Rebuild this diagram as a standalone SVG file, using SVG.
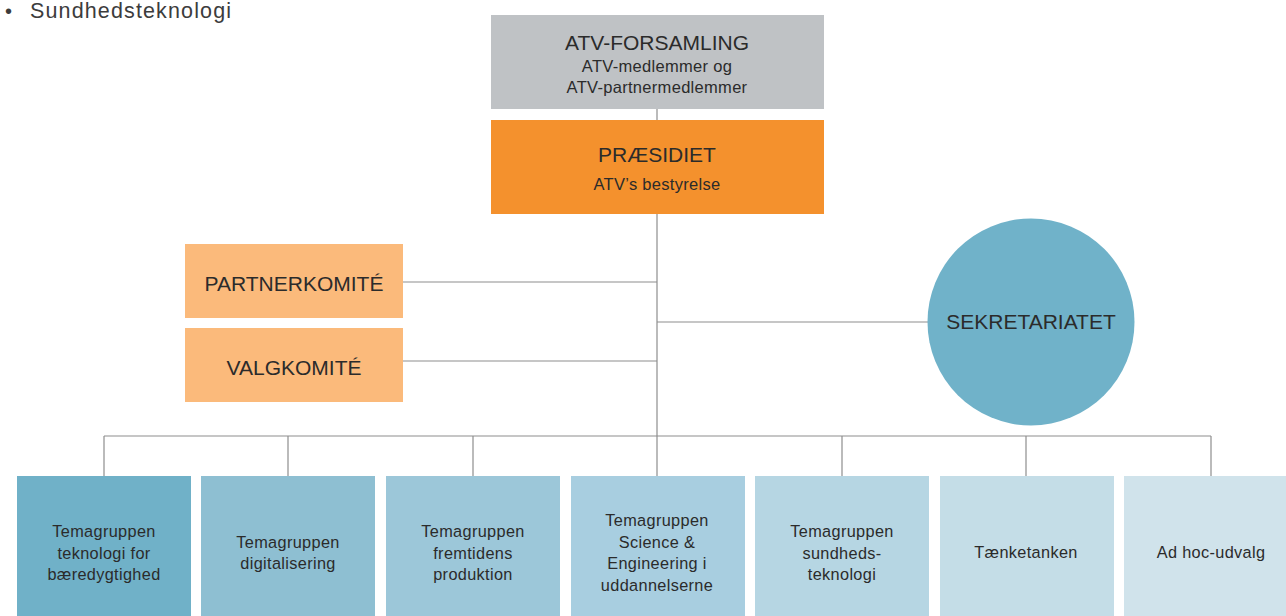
<svg xmlns="http://www.w3.org/2000/svg" width="1286" height="616" viewBox="0 0 1286 616">
<style>
text{font-family:"Liberation Sans",Arial,Helvetica,sans-serif;fill:#2b2b2b;text-anchor:middle}
.t20{font-size:21px}
.t16{font-size:16.5px;letter-spacing:0.3px}
.t15{font-size:16.3px;letter-spacing:0.35px}
.con line{stroke:#8e8e8e;stroke-width:1.2;fill:none}
</style>
<rect width="1286" height="616" fill="#ffffff"/>
<text x="5" y="18" style="font-size:20px;text-anchor:start;fill:#3c3c3c">•</text>
<text x="30" y="18" textLength="201" style="font-size:21.5px;text-anchor:start;fill:#3c3c3c">Sundhedsteknologi</text>
<g class="con" id="connectors">
<line x1="657" y1="108" x2="657" y2="120"/>
<line x1="657" y1="213" x2="657" y2="436"/>
<line x1="403" y1="282" x2="657" y2="282"/>
<line x1="403" y1="361" x2="657" y2="361"/>
<line x1="657" y1="322" x2="928" y2="322"/>
<line x1="104" y1="436" x2="1211" y2="436"/>
<line x1="104" y1="436" x2="104" y2="476"/>
<line x1="288" y1="436" x2="288" y2="476"/>
<line x1="473" y1="436" x2="473" y2="476"/>
<line x1="657" y1="436" x2="657" y2="476"/>
<line x1="842" y1="436" x2="842" y2="476"/>
<line x1="1026" y1="436" x2="1026" y2="476"/>
<line x1="1211" y1="436" x2="1211" y2="476"/>
</g>
<g id="forsamling">
<rect x="491" y="15" width="333" height="94" fill="#bfc2c5"/>
<text x="657" y="50" class="t20">ATV-FORSAMLING</text>
<text x="657" y="72" class="t16">ATV-medlemmer og</text>
<text x="657" y="93" class="t16">ATV-partnermedlemmer</text>
</g>
<g id="praesidiet">
<rect x="491" y="120" width="333" height="94" fill="#f4912d"/>
<text x="657" y="162" class="t20">PRÆSIDIET</text>
<text x="657" y="190" class="t16">ATV’s bestyrelse</text>
</g>
<g id="partnerkomite">
<rect x="185" y="244" width="218" height="74" fill="#fbba7b"/>
<text x="294" y="291" class="t20">PARTNERKOMITÉ</text>
</g>
<g id="valgkomite">
<rect x="185" y="328" width="218" height="74" fill="#fbba7b"/>
<text x="294" y="375" class="t20">VALGKOMITÉ</text>
</g>
<g id="sekretariatet">
<circle cx="1031" cy="322" r="103.5" fill="#70b2c9"/>
<text x="1031" y="329" class="t20">SEKRETARIATET</text>
</g>
<g id="tema1">
<rect x="17" y="476" width="174" height="145" fill="#70b1c8"/>
<text x="104" y="537" class="t15">Temagruppen</text>
<text x="104" y="558.5" class="t15">teknologi for</text>
<text x="104" y="580" class="t15">bæredygtighed</text>
</g>
<g id="tema2">
<rect x="201" y="476" width="174" height="145" fill="#8ebfd2"/>
<text x="288" y="547.5" class="t15">Temagruppen</text>
<text x="288" y="569" class="t15">digitalisering</text>
</g>
<g id="tema3">
<rect x="386" y="476" width="174" height="145" fill="#9cc7d9"/>
<text x="473" y="537" class="t15">Temagruppen</text>
<text x="473" y="558.5" class="t15">fremtidens</text>
<text x="473" y="580" class="t15">produktion</text>
</g>
<g id="tema4">
<rect x="571" y="476" width="174" height="145" fill="#a8cee0"/>
<text x="657" y="526" class="t15">Temagruppen</text>
<text x="657" y="547.5" class="t15">Science &amp;</text>
<text x="657" y="569" class="t15">Engineering i</text>
<text x="657" y="590.5" class="t15">uddannelserne</text>
</g>
<g id="tema5">
<rect x="755" y="476" width="174" height="145" fill="#b6d6e3"/>
<text x="842" y="537" class="t15">Temagruppen</text>
<text x="842" y="558.5" class="t15">sundheds-</text>
<text x="842" y="580" class="t15">teknologi</text>
</g>
<g id="taenketanken">
<rect x="940" y="476" width="174" height="145" fill="#c4dde7"/>
<text x="1026" y="558" class="t15">Tænketanken</text>
</g>
<g id="adhoc">
<rect x="1124" y="476" width="174" height="145" fill="#d0e3eb"/>
<text x="1211" y="558" class="t15">Ad hoc-udvalg</text>
</g>
</svg>
